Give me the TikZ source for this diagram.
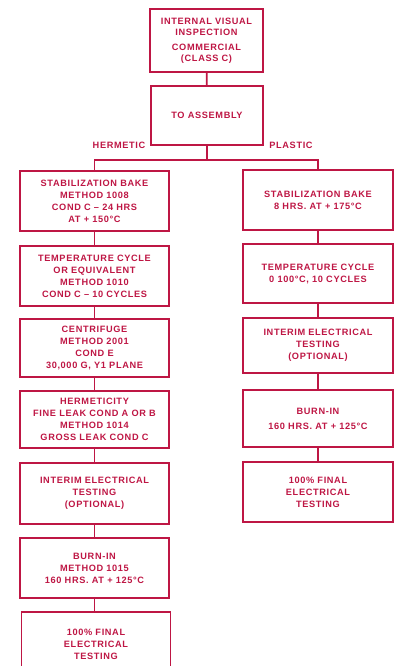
\documentclass[tikz,border=0pt]{standalone}
\usepackage{fontspec}
\setmainfont{Liberation Sans}[LetterSpace=7]
\definecolor{ink}{RGB}{190,22,68}
\begin{document}
\begin{tikzpicture}[x=1pt,y=-1pt,
  box/.style={draw=ink, line width=1.7pt, align=center, text=ink, inner sep=0pt,
    font=\bfseries\fontsize{9.2}{12}\selectfont},
  lbl/.style={text=ink, inner sep=0pt, font=\bfseries\fontsize{9.2}{12}\selectfont},
  link/.style={draw=ink, line width=1.7pt}]
\useasboundingbox (0,0) rectangle (401,666);
\clip (0,0) rectangle (401,666);
% top
\node[box, minimum width=113pt, minimum height=63pt] (top) at (206.5,40.5)
  {INTERNAL VISUAL\\[-1pt]INSPECTION\\[3pt]COMMERCIAL\\[-1pt](CLASS C)};
\node[box, minimum width=112pt, minimum height=59pt] (asm) at (207,115.5) {TO ASSEMBLY};
\coordinate (split) at (207,160);
\node[lbl] (herm) at (119,145) {HERMETIC};
\node[lbl] (plas) at (291,145) {PLASTIC};
% left column
\node[box, minimum width=149pt, minimum height=60pt] (l1) at (94.5,201)
  {STABILIZATION BAKE\\METHOD 1008\\COND C -- 24 HRS\\AT + 150°C};
\node[box, minimum width=149pt, minimum height=60pt] (l2) at (94.5,276)
  {TEMPERATURE CYCLE\\OR EQUIVALENT\\METHOD 1010\\COND C -- 10 CYCLES};
\node[box, minimum width=149pt, minimum height=58pt] (l3) at (94.5,348)
  {CENTRIFUGE\\METHOD 2001\\COND E\\30,000 G, Y1 PLANE};
\node[box, minimum width=149pt, minimum height=57pt] (l4) at (94.5,419.5)
  {HERMETICITY\\FINE LEAK COND A OR B\\METHOD 1014\\GROSS LEAK COND C};
\node[box, minimum width=149pt, minimum height=61pt] (l5) at (94.5,493.5)
  {INTERIM ELECTRICAL\\TESTING\\(OPTIONAL)};
\node[box, minimum width=149pt, minimum height=60pt] (l6) at (94.5,568)
  {BURN-IN\\METHOD 1015\\160 HRS. AT + 125°C};
\node[box, minimum width=149pt, minimum height=64pt] (l7) at (96,644)
  {100\% FINAL\\ELECTRICAL\\TESTING};
% right column
\node[box, minimum width=150pt, minimum height=60pt] (r1) at (318,200)
  {STABILIZATION BAKE\\8 HRS. AT + 175°C};
\node[box, minimum width=150pt, minimum height=59pt] (r2) at (318,273.5)
  {TEMPERATURE CYCLE\\0 100°C, 10 CYCLES};
\node[box, minimum width=150pt, minimum height=55pt] (r3) at (318,345.5)
  {INTERIM ELECTRICAL\\TESTING\\(OPTIONAL)};
\node[box, minimum width=150pt, minimum height=57pt] (r4) at (318,418.5)
  {BURN-IN\\[3pt]160 HRS. AT + 125°C};
\node[box, minimum width=150pt, minimum height=60pt] (r5) at (318,492)
  {100\% FINAL\\ELECTRICAL\\TESTING};
% connectors
\draw[link] (top) -- (asm);
\draw[link] (asm) -- (split);
\draw[link] (l1.north) |- (split) -| (r1.north);
\draw[link] (l1) -- (l2);
\draw[link] (l2) -- (l3);
\draw[link] (l3) -- (l4);
\draw[link] (l4) -- (l5);
\draw[link] (l5) -- (l6);
\draw[link] (l6) -- (l6 |- l7.north);
\draw[link] (r1) -- (r2);
\draw[link] (r2) -- (r3);
\draw[link] (r3) -- (r4);
\draw[link] (r4) -- (r5);
\end{tikzpicture}
\end{document}
